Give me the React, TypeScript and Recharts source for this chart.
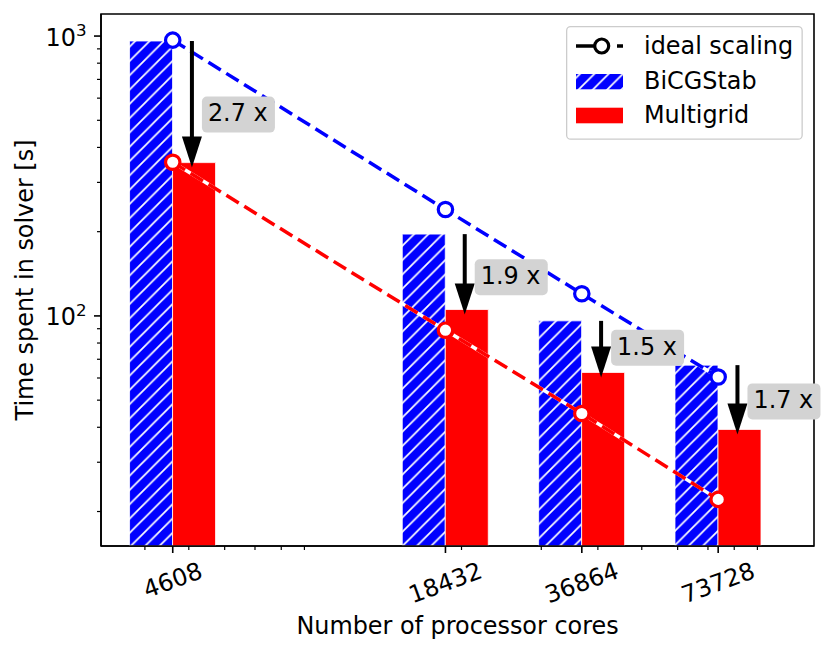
import React from 'react'
import {
  ComposedChart, Bar, Line, XAxis, YAxis, Legend,
  ReferenceLine, ReferenceDot, ReferenceArea,
} from 'recharts'

// processor core counts and measured solver times [s]
const cores = [4608, 18432, 36864, 73728]
const bicgstab = [960, 196, 96, 66.7]
const multigrid = [353, 105.4, 62.8, 39.3]
const idealBicgstab = [967, 240, 120, 60.5]
const idealMultigrid = [354, 88.9, 44.8, 22.1]

// speedup annotations
const speedupLabels = ['2.7 x', '1.9 x', '1.5 x', '1.7 x']
const arrowCores = [5080, 20330, 40660, 81320]
const labelTimes = [524, 137.5, 76.9, 49.5]

// axis ticks
const xMinorTicks = [4000, 5000, 6000, 7000, 8000, 9000, 20000, 30000, 40000, 50000, 60000, 70000, 80000, 90000]
const yMajorTicks = [100, 1000]
const yMajorExponents = ['2', '3']
const yMinorTicks = [20, 30, 40, 50, 60, 70, 80, 90, 200, 300, 400, 500, 600, 700, 800, 900]

const X_DOMAIN = [3200, 120000]
const Y_DOMAIN = [15.06, 1199]
const FONT = '"DejaVu Sans", sans-serif'
const FS = 23.9
const BLUE = '#0000ff'
const RED = '#ff0000'

const data = cores.map((c, i) => ({
  cores: c,
  bicgstab: bicgstab[i],
  multigrid: multigrid[i],
  idealBicgstab: idealBicgstab[i],
  idealMultigrid: idealMultigrid[i],
}))

const HATCH = 14.3

const HatchDefs = () => (
  <defs>
    <pattern id="hatch" patternUnits="userSpaceOnUse" x={4.7} y={0} width={HATCH} height={HATCH}>
      <rect width={HATCH} height={HATCH} fill={BLUE} />
      <path
        d={`M0,${HATCH} L${HATCH},0 M-2,2 L2,-2 M${HATCH - 2},${HATCH + 2} L${HATCH + 2},${HATCH - 2}`}
        stroke="#fff"
        strokeWidth={1.7}
      />
    </pattern>
  </defs>
)

const XTick = (props: any) => {
  const { x, y, payload } = props
  if (!cores.includes(payload.value)) {
    return <line x1={x} x2={x} y1={y} y2={y + 4} stroke="#000" strokeWidth={1.2} />
  }
  const label = String(payload.value)
  const w = label.length * 0.636 * FS
  const cy = y + 16 + (w * 0.342 + 16.8 * 0.94) / 2
  return (
    <g>
      <line x1={x} x2={x} y1={y} y2={y + 7} stroke="#000" strokeWidth={1.6} />
      <text x={x} y={cy} textAnchor="middle" dominantBaseline="central" fontSize={FS}
        fill="#000" transform={`rotate(-20 ${x} ${cy})`}>{label}</text>
    </g>
  )
}

const YTick = (props: any) => {
  const { x, y, payload } = props
  const idx = yMajorTicks.indexOf(payload.value)
  if (idx < 0) {
    return <line x1={x - 4} x2={x} y1={y} y2={y} stroke="#000" strokeWidth={1.2} />
  }
  return (
    <g>
      <line x1={x - 7} x2={x} y1={y} y2={y} stroke="#000" strokeWidth={1.6} />
      <text x={x - 14.5} y={y + 9.5} textAnchor="end" fontSize={FS} fill="#000">
        10<tspan dy={-9.5} fontSize={16.7}>{yMajorExponents[idx]}</tspan>
      </text>
    </g>
  )
}

const XLabel = (props: any) => {
  const vb = props.viewBox ?? { x: 101, y: 545.7, width: 713, height: 109 }
  return (
    <text x={vb.x + vb.width / 2} y={vb.y + 88.3} textAnchor="middle" fontSize={FS} fill="#000">
      Number of processor cores
    </text>
  )
}

const YLabel = (props: any) => {
  const vb = props.viewBox ?? { x: 0, y: 14, width: 101, height: 531.7 }
  return (
    <text transform={`translate(${vb.x + 33.3} ${vb.y + vb.height / 2}) rotate(-90)`}
      textAnchor="middle" fontSize={FS} fill="#000">
      Time spent in solver [s]
    </text>
  )
}

const dot = (color: string) => (p: any) => (
  <circle key={`dot-${color}-${p.index}`} cx={p.cx} cy={p.cy} r={7.2}
    fill="#fff" stroke={color} strokeWidth={3.2} />
)

const Arrow = (p: any) => {
  const { x1, y1, y2 } = p
  const tip = y2 + 5
  const head = 31
  return (
    <g>
      <line x1={x1} x2={x1} y1={y1} y2={tip - head + 2} stroke="#000" strokeWidth={4} />
      <path d={`M${x1 - 10},${tip - head} L${x1 + 10},${tip - head} L${x1},${tip} Z`} fill="#000" />
    </g>
  )
}

const SpeedupBox = ({ cx, cy, text }: any) => (
  <g>
    <rect x={cx + 10} y={cy - 18} width={73} height={36} rx={5} fill="#d3d3d3" />
    <text x={cx + 16} y={cy + 6.8} fontSize={FS} fill="#000">{text}</text>
  </g>
)

const LegendBox = () => (
  <svg width={237} height={114} style={{ display: 'block', fontFamily: FONT }}>
    <rect x={0.65} y={0.65} width={235.5} height={112.5} rx={4} fill="#fff" fillOpacity={0.8}
      stroke="#cccccc" strokeWidth={1.3} />
    <line x1={10} x2={57} y1={20} y2={20} stroke="#000" strokeWidth={3.5} strokeDasharray="30 11 6" />
    <circle cx={35.7} cy={20} r={7} fill="#fff" stroke="#000" strokeWidth={3.2} />
    <text x={78} y={28.3} fontSize={FS} fill="#000">ideal scaling</text>
    <rect x={10} y={48} width={47} height={15.3} fill="url(#hatch)" />
    <text x={78} y={63.3} fontSize={FS} fill="#000">BiCGStab</text>
    <rect x={10} y={81.7} width={47} height={15.6} fill={RED} />
    <text x={78} y={97.3} fontSize={FS} fill="#000">Multigrid</text>
  </svg>
)

export default function App() {
  return (
    <div style={{ position: 'fixed', left: 0, top: 0, width: 830, height: 655, background: '#fff', fontFamily: FONT }}>
      <ComposedChart width={830} height={655} data={data} barGap={0}
        margin={{ top: 14, right: 16, bottom: 0, left: 0 }}>
        <HatchDefs />
        <XAxis dataKey="cores" type="number" scale="log" domain={X_DOMAIN} allowDataOverflow
          ticks={[...cores, ...xMinorTicks]} interval={0} tick={XTick} tickLine={false}
          tickSize={0} tickMargin={0} height={109}
          axisLine={{ stroke: '#000', strokeWidth: 1.6 }} label={XLabel} />
        <YAxis type="number" scale="log" domain={Y_DOMAIN} allowDataOverflow
          ticks={[...yMajorTicks, ...yMinorTicks]} interval={0} tick={YTick} tickLine={false}
          tickSize={0} tickMargin={0} width={101}
          axisLine={{ stroke: '#000', strokeWidth: 1.6 }} label={YLabel} />
        <ReferenceArea x1={X_DOMAIN[0]} x2={X_DOMAIN[1]} y1={Y_DOMAIN[0]} y2={Y_DOMAIN[1]}
          fill="none" stroke="#000" strokeWidth={1.6} fillOpacity={0} />
        <Bar dataKey="bicgstab" barSize={43} fill="url(#hatch)" stroke="#fff" strokeWidth={0.8}
          isAnimationActive={false} />
        <Bar dataKey="multigrid" barSize={43} fill={RED} stroke="#fff" strokeWidth={0.8}
          isAnimationActive={false} />
        <Line dataKey="idealBicgstab" type="linear" stroke="#fff" strokeWidth={3.5} dot={false}
          activeDot={false} isAnimationActive={false} />
        <Line dataKey="idealBicgstab" type="linear" stroke={BLUE} strokeWidth={3.5}
          strokeDasharray="14.5 6.5" dot={dot(BLUE)} activeDot={false} isAnimationActive={false} />
        <Line dataKey="idealMultigrid" type="linear" stroke="#fff" strokeWidth={3.5} dot={false}
          activeDot={false} isAnimationActive={false} />
        <Line dataKey="idealMultigrid" type="linear" stroke={RED} strokeWidth={3.5}
          strokeDasharray="14.5 6.5" dot={dot(RED)} activeDot={false} isAnimationActive={false} />
        {arrowCores.map((c, i) => (
          <ReferenceLine key={`arrow-${i}`} segment={[{ x: c, y: bicgstab[i] }, { x: c, y: multigrid[i] }]}
            shape={Arrow} />
        ))}
        {arrowCores.map((c, i) => (
          <ReferenceDot key={`box-${i}`} x={c} y={labelTimes[i]}
            shape={(p: any) => <SpeedupBox cx={p.cx} cy={p.cy} text={speedupLabels[i]} />} />
        ))}
        <Legend layout="horizontal" verticalAlign="middle" align="center"
          wrapperStyle={{ left: 566, top: 26, width: 237, height: 114 }}
          content={() => <LegendBox />} />
      </ComposedChart>
    </div>
  )
}
